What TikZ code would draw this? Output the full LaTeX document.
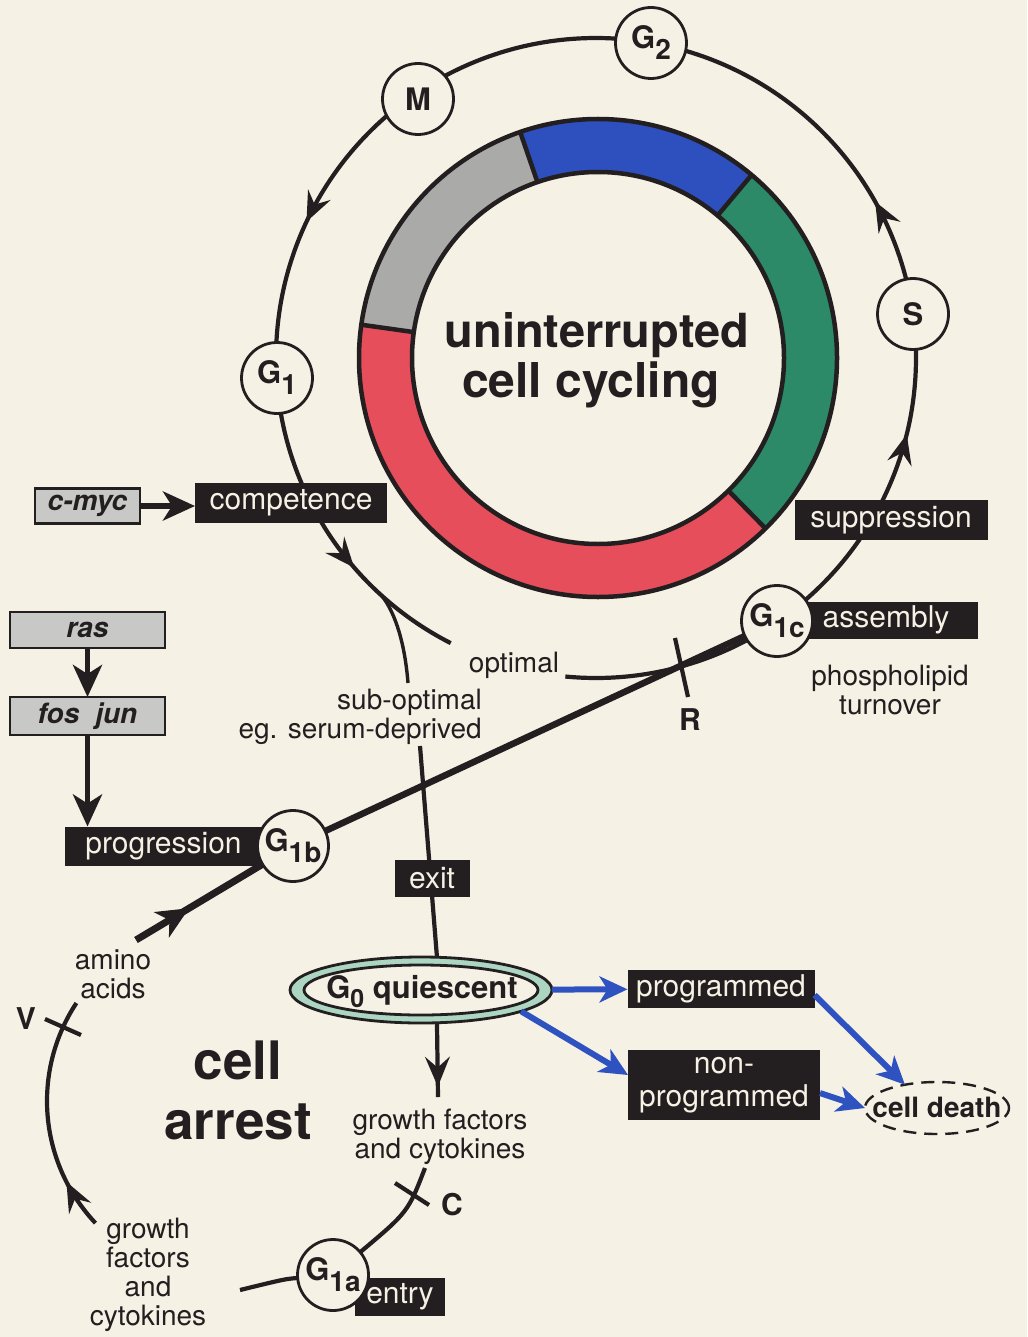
\documentclass[tikz,border=0pt]{standalone}
\usepackage{fontspec}
\setmainfont{TeX Gyre Heros}
\usetikzlibrary{arrows.meta,shapes.geometric,decorations.markings}

\definecolor{paper}{RGB}{245,241,228}
\definecolor{ink}{RGB}{35,31,32}
\definecolor{ringred}{RGB}{230,78,92}
\definecolor{ringgray}{RGB}{170,170,168}
\definecolor{ringblue}{RGB}{46,80,190}
\definecolor{ringgreen}{RGB}{44,138,104}
\definecolor{genegray}{RGB}{200,200,198}
\definecolor{mint}{RGB}{172,214,194}
\definecolor{fateblue}{RGB}{46,82,192}

\pgfdeclarelayer{paperlayer}
\pgfdeclarelayer{linelayer}
\pgfsetlayers{paperlayer,linelayer,main}

% phase letter with a large lowered index
\newcommand{\Gsub}[1]{G\raisebox{-11pt}{\fontsize{28}{28}\selectfont #1}}

\tikzset{
  fattip/.tip={Stealth[length=32pt,width=29pt,inset=9pt]},
  bluetip/.tip={Stealth[length=28pt,width=26pt,inset=8pt]},
  phase/.style={circle, draw=ink, line width=2.8pt, fill=paper, minimum size=71pt,
    inner sep=0pt, outer sep=0pt, text=ink, font=\fontsize{31}{31}\selectfont\bfseries},
  darkbox/.style={fill=ink, text=paper, inner sep=0pt, outer sep=0pt,
    font=\fontsize{30}{31}\selectfont},
  genebox/.style={draw=ink, line width=2.8pt, fill=genegray, inner sep=0pt, outer sep=0pt,
    text=ink, font=\fontsize{28}{28}\selectfont\bfseries\itshape},
  note/.style={text=ink, inner sep=0pt, align=center, font=\fontsize{28}{29}\selectfont},
  tag/.style={text=ink, inner sep=0pt, font=\fontsize{30}{30}\selectfont\bfseries},
  cycline/.style={draw=ink, line width=4.2pt},
  heavyline/.style={draw=ink, line width=6.5pt},
  tipat/.style={postaction={decorate, decoration={markings,
    mark=at position #1 with {\arrow[ink,line width=2pt]{Stealth[length=30pt,width=25pt,inset=11pt]}}}}},
  fattipat/.style={postaction={decorate, decoration={markings,
    mark=at position #1 with {\arrow[ink]{fattip}}}}},
  fatarrow/.style={draw=ink, line width=5.5pt, -{fattip}},
  fatearrow/.style={draw=fateblue, line width=6pt, -{bluetip}},
}

\begin{document}
\begin{tikzpicture}[x=1pt,y=-1pt]
\useasboundingbox (0,0) rectangle (1027,1337);

\begin{pgfonlayer}{paperlayer}
  \fill[paper] (0,0) rectangle (1027,1337);
  % coloured phase ring
  \foreach \a/\b/\c in {45.5/188/ringred,188/251/ringgray,251/310/ringblue,310/405.5/ringgreen}{
    \fill[\c] plot[domain=\a:\b,samples=60] ({598+239*cos(\x)},{358+239*sin(\x)})
      -- plot[domain=\b:\a,samples=60] ({598+186*cos(\x)},{358+186*sin(\x)}) -- cycle;
  }
  \draw[ink,line width=4.5pt] (598,358) circle[radius=239pt];
  \draw[ink,line width=4.5pt] (598,358) circle[radius=186pt];
  \foreach \a in {45.5,188,251,310}{
    \draw[ink,line width=4.5pt] ({598+186*cos(\a)},{358+186*sin(\a)})
      -- ({598+239*cos(\a)},{358+239*sin(\a)});
  }
\end{pgfonlayer}

% ring title
\node[anchor=base, text=ink, inner sep=0pt, font=\fontsize{47}{47}\selectfont\bfseries]
  (title1) at (597,347) {uninterrupted};
\node[anchor=base, text=ink, inner sep=0pt, font=\fontsize{48}{48}\selectfont\bfseries]
  (title2) at (591,397) {cell cycling};

% gene boxes
\node[genebox, minimum width=105pt, minimum height=35pt] (cmyc) at (87.5,506) {c-myc};
\node[genebox, minimum width=155pt, minimum height=36pt] (ras) at (87.5,630) {ras};
\node[genebox, minimum width=155pt, minimum height=38pt] (fosjun) at (87.5,716) {fos\hspace{16pt}jun};

% dark labels
\node[darkbox, minimum width=192pt, minimum height=40pt] (comp) at (291,503) {competence};
\node[darkbox, minimum width=193pt, minimum height=40pt] (supp) at (891,520) {suppression};
\node[darkbox, minimum width=183pt, minimum height=37pt] (asm) at (886,620) {assembly};
\node[darkbox, minimum width=197pt, minimum height=39pt] (progr) at (163.5,846) {progression};
\node[darkbox, minimum width=75pt, minimum height=37pt] (exit) at (432,878) {exit};
\node[darkbox, minimum width=187pt, minimum height=38pt] (pgm) at (721,989) {programmed};
\node[darkbox, minimum width=192pt, minimum height=70pt, align=center,
  font=\fontsize{30}{33}\selectfont] (npgm) at (724,1085) {non-\\programmed};
\node[darkbox, minimum width=90pt, minimum height=38pt] (entry) at (400,1297) {entry};

% phases
\node[phase] (M) at (418,99) {M};
\node[phase] (G2) at (651,43) {\Gsub{2}};
\node[phase] (S) at (913,314) {S};
\node[phase] (G1) at (277,378) {\Gsub{1}};
\node[phase] (G1c) at (777,621) {\Gsub{1c}};
\node[phase] (G1b) at (293,846) {\Gsub{1b}};
\node[phase] (G1a) at (333,1275) {\Gsub{1a}};

% quiescence and death
\node[ellipse, draw=ink, line width=2.8pt, fill=mint, minimum width=262pt, minimum height=66pt,
  inner sep=0pt, outer sep=0pt] (G0) at (421,990) {};
\node[ellipse, draw=ink, line width=2.8pt, fill=paper, minimum width=234pt, minimum height=50pt,
  inner sep=0pt, outer sep=0pt] (G0in) at (421,990) {};
\node[text=ink, inner sep=0pt, font=\fontsize{31}{31}\selectfont\bfseries] (G0txt) at (422,992)
  {G\raisebox{-9pt}{\fontsize{25}{25}\selectfont 0} quiescent};
\node[ellipse, draw=ink, line width=2.4pt, dash pattern=on 13pt off 8pt, fill=paper,
  minimum width=144pt, minimum height=52pt, inner sep=0pt, outer sep=0pt] (death) at (937,1108) {};
\node[text=ink, inner sep=0pt, font=\fontsize{28}{28}\selectfont\bfseries] (deathtxt) at (937,1107) {cell death};

% free labels
\node[note] (optimal) at (514,665) {optimal};
\node[note, anchor=east, align=right] (subopt) at (482,717) {sub-optimal\\eg. serum-deprived};
\node[note] (turnover) at (890,690) {phospholipid\\turnover};
\node[note] (gfright) at (440,1137) {growth factors\\and cytokines};
\node[note] (gfleft) at (148,1275) {growth\\factors\\and\\cytokines};
\node[note] (amino) at (113,974) {amino\\acids};
\node[text=ink, inner sep=0pt, align=center, font=\fontsize{53}{60}\selectfont\bfseries]
  (arrest) at (238,1090) {cell\\arrest};
\node[tag] (Rtag) at (690,720) {R};
\node[tag] (Ctag) at (452,1205) {C};
\node[tag] (Vtag) at (26,1019) {V};

\begin{pgfonlayer}{linelayer}
  % the cycle: G1c - S - G2 - M - G1 - competence - optimal
  \draw[cycline, tipat=0.1397, tipat=0.284, tipat=0.7045, tipat=0.926]
    plot[domain=55.5:-243, samples=300] ({596+320*cos(\x)},{358+320*sin(\x)});
  \draw[cycline] plot[domain=95.5:55.5, samples=60] ({596+320*cos(\x)},{358+320*sin(\x)});
  % sub-optimal branch
  \coordinate (fork) at (382,596);
  \coordinate (subtop) at (408,683);
  \draw[ink, line width=3.4pt] (fork) .. controls (396,614) and (405,645) .. (subtop);
  % G1b to G1c
  \draw[heavyline] (G1b) -- (G1c);
  % restriction point
  \coordinate (Ra) at (675,638);
  \coordinate (Rb) at (688,697);
  \draw[cycline] (Ra) -- (Rb);
  % exit to quiescence
  \coordinate (serum) at (420,746);
  \draw[cycline] (serum) -- (G0.64);
  % quiescence to growth factors
  \coordinate (gfdown) at (438,1097);
  \draw[cycline, tipat=0.86] (G0.-64) -- (gfdown);
  % growth factors to G1a
  \coordinate (gfc) at (425,1168);
  \draw[cycline] (gfc) .. controls (408,1212) .. (G1a);
  \coordinate (Ca) at (395,1183);
  \coordinate (Cb) at (429,1205);
  \draw[cycline] (Ca) -- (Cb);
  % G1a to growth factors (left)
  \coordinate (gfl) at (240,1290);
  \draw[cycline] (G1a) .. controls (285,1279) .. (gfl);
  % arrest arc
  \draw[cycline, tipat=0.2125]
    plot[domain=136.7:213.4, samples=80] ({225+178*cos(\x)},{1101+178*sin(\x)});
  \coordinate (Va) at (45,1019);
  \coordinate (Vb) at (81,1035);
  \draw[cycline] (Va) -- (Vb);
  % amino acids to G1b
  \coordinate (aminoend) at (136,940);
  \draw[heavyline, line width=7pt, fattipat=0.42] (aminoend) -- (G1b);
\end{pgfonlayer}

% gene activation arrows
\draw[fatarrow] (cmyc.east) -- (cmyc.east -| comp.west);
\draw[fatarrow] (ras) -- (fosjun);
\draw[fatarrow] (fosjun.south) -- (fosjun.south |- progr.north);

% fate arrows
\draw[fatearrow] (G0) -- (pgm);
\draw[fatearrow] (G0.-12) -- ([yshift=10pt]npgm.west);
\draw[fatearrow] ([yshift=-6pt]pgm.east) -- (death.144);
\draw[fatearrow] ([yshift=-8pt]npgm.east) -- (death.west);
\end{tikzpicture}
\end{document}
